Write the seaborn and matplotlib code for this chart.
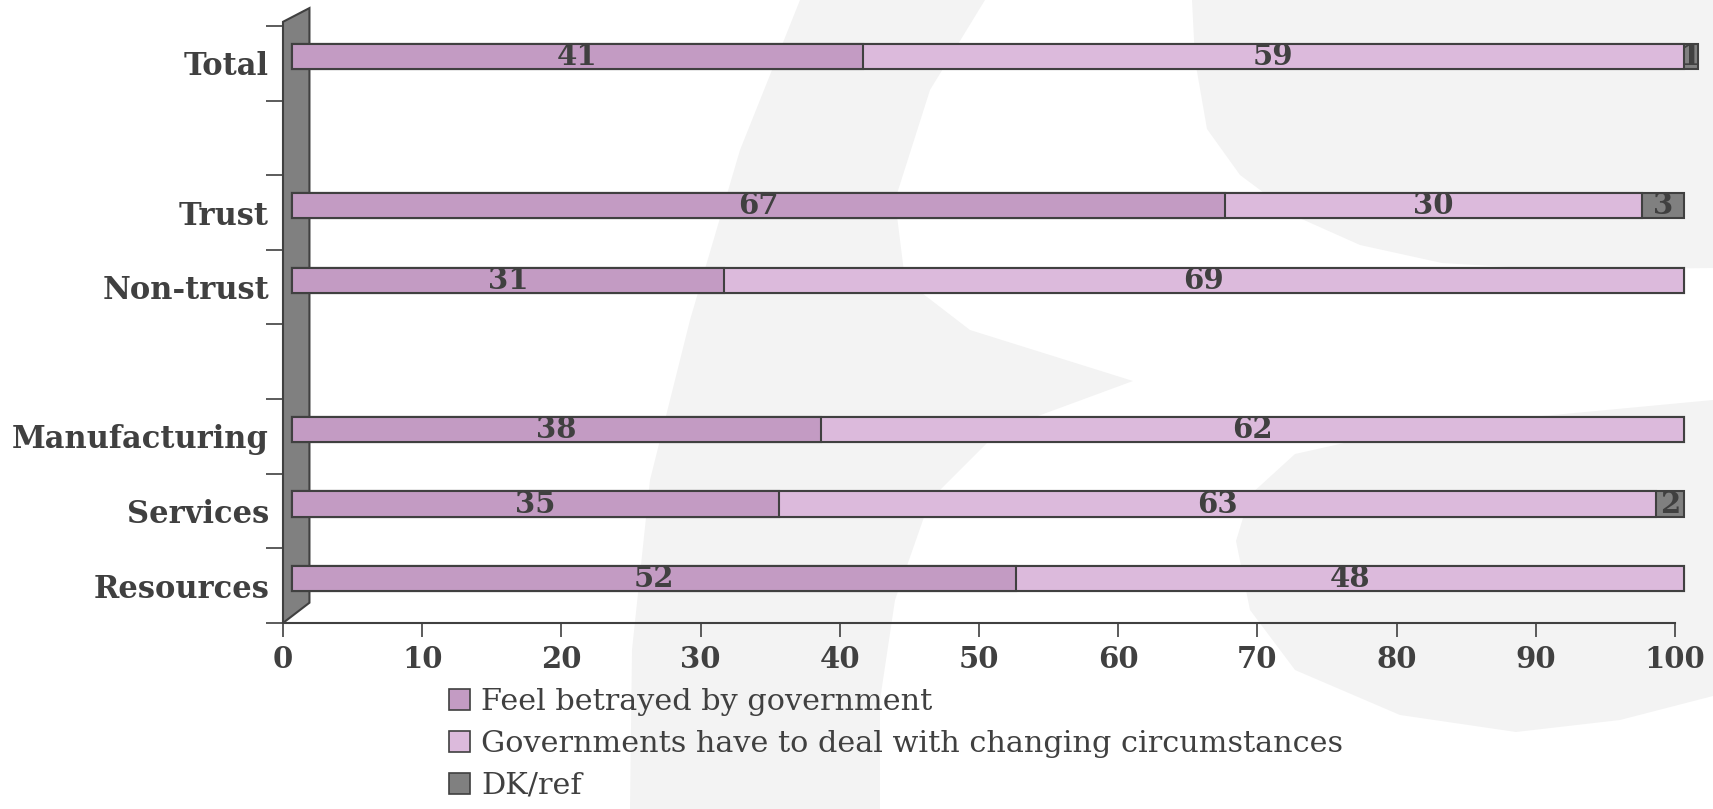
import numpy as np
import pandas as pd
import matplotlib
matplotlib.use("Agg")
import matplotlib.pyplot as plt
import matplotlib.transforms as mtransforms
from matplotlib.patches import Polygon, Patch
import seaborn as sns

# ---------------- data ----------------
categories = ["Total", "Trust", "Non-trust", "Manufacturing", "Services", "Resources"]
order = ["Total", "_gap1", "Trust", "Non-trust", "_gap2", "Manufacturing", "Services", "Resources"]
betrayed = [41, 67, 31, 38, 35, 52]
deal = [59, 30, 69, 62, 63, 48]
dkref = [1, 3, 0, 0, 2, 0]
series_names = ["Feel betrayed by government",
                "Governments have to deal with changing circumstances",
                "DK/ref"]
xticks = [0, 10, 20, 30, 40, 50, 60, 70, 80, 90, 100]

colors = ["#c39bc3", "#dcbadc", "#808080"]
edge = "#404040"
text_color = "#404040"

df = pd.DataFrame({"cat": categories, "b": betrayed, "d": deal, "k": dkref})
df["c1"] = df["b"]
df["c2"] = df["b"] + df["d"]
df["c3"] = df["b"] + df["d"] + df["k"]

sns.set_theme(style="white")
plt.rcParams["font.family"] = ["DejaVu Serif"]

W, H = 1713, 809
fig = plt.figure(figsize=(W / 100, H / 100), dpi=100)
fig.patch.set_facecolor("white")

# faint background watermark
def fpoly(pts, color="#f3f3f3"):
    xy = [(x / W, 1 - y / H) for x, y in pts]
    fig.patches.append(Polygon(xy, closed=True, transform=fig.transFigure,
                               facecolor=color, edgecolor="none", zorder=-10))

fpoly([(800, 0), (985, 0), (930, 90), (895, 200), (905, 280), (970, 330), (1133, 381),
       (1000, 430), (930, 500), (895, 600), (880, 700), (880, 809), (630, 809),
       (632, 650), (650, 480), (690, 320), (740, 150)])
fpoly([(1192, 0), (1713, 0), (1713, 268), (1560, 270), (1442, 263), (1360, 245),
       (1295, 216), (1240, 175), (1207, 129), (1195, 60)])
fpoly([(1713, 400), (1500, 420), (1380, 435), (1295, 454), (1250, 495), (1236, 541),
       (1250, 610), (1295, 670), (1400, 715), (1516, 732), (1620, 720), (1713, 696)])

ax = fig.add_axes([283 / W, 1 - 623 / H, (1675 - 283) / W, (623 - 26) / H])
ax.set_facecolor("none")

layers = [("c3", colors[2]), ("c2", colors[1]), ("c1", colors[0])]
for col, c in layers:
    sns.barplot(data=df, y="cat", x=col, order=order, orient="h", color=c,
                width=0.34, edgecolor=edge, linewidth=1.5, errorbar=None,
                saturation=1, ax=ax)

# pseudo-3D depth offset
off = mtransforms.ScaledTranslation(0.09, 0.07, fig.dpi_scale_trans)
for p in ax.patches:
    p.set_transform(ax.transData + off)
    p.set_clip_on(False)
    p.set_zorder(3)

# value labels
pos = {c: i for i, c in enumerate(order)}
for i, cat in enumerate(categories):
    y = pos[cat]
    starts = [0, betrayed[i], betrayed[i] + deal[i]]
    vals = [betrayed[i], deal[i], dkref[i]]
    for s, v in zip(starts, vals):
        if v > 0:
            ax.text(s + v / 2, y, str(v), transform=ax.transData + off,
                    ha="center", va="center", fontsize=21, fontweight="bold",
                    color=text_color, zorder=5, clip_on=False)

# grey wall
wall = Polygon([(0, 0), (1.9, 0.034), (1.9, 1.03), (0, 1.007)], closed=True,
               transform=mtransforms.blended_transform_factory(ax.transData, ax.transAxes),
               facecolor="#808080", edgecolor=edge, linewidth=1.5, zorder=1, clip_on=False)
ax.add_patch(wall)

ax.set_xlim(0, 100)
ax.set_ylim(len(order) - 0.5, -0.5)
ax.set_xlabel("")
ax.set_ylabel("")

ax.set_yticks([pos[c] for c in categories])
ax.set_yticklabels(categories)
ax.set_yticks(np.arange(-0.5, len(order), 1.0), minor=True)
ax.tick_params(axis="y", which="major", length=0, pad=10, labelsize=22, labelcolor=text_color)
ax.tick_params(axis="y", which="minor", length=12, width=1.2, color=edge, left=True)
for t in ax.get_yticklabels():
    t.set_fontweight("bold")

ax.set_xticks(xticks)
ax.set_xticklabels([str(v) for v in xticks])
ax.tick_params(axis="x", which="major", length=10, width=1.2, color=edge, bottom=True,
               labelsize=21, labelcolor=text_color, pad=6)
for t in ax.get_xticklabels():
    t.set_fontweight("bold")

for s in ["top", "right"]:
    ax.spines[s].set_visible(False)
ax.spines["left"].set_visible(False)
ax.spines["bottom"].set_color(edge)
ax.spines["bottom"].set_linewidth(1.5)

handles = [Patch(facecolor=c, edgecolor=edge, linewidth=1.2) for c in colors]
fig.legend(handles, series_names, loc="upper left",
           bbox_to_anchor=(434 / W, 1 - 673 / H), frameon=False,
           handlelength=0.7, handleheight=0.7, handletextpad=0.35,
           labelspacing=0.46, fontsize=21.8, labelcolor=text_color, borderpad=0)

fig.savefig("out.png", dpi=100, facecolor="white")
